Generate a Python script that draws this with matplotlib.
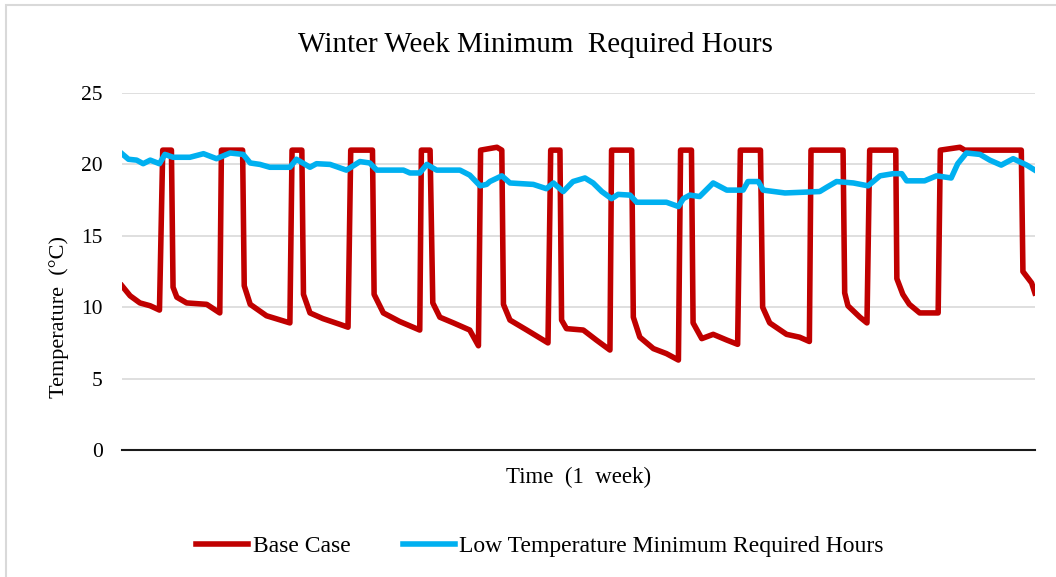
import matplotlib.pyplot as plt
from matplotlib.patches import Rectangle

plt.rcParams["font.family"] = ["Liberation Serif", "DejaVu Serif"]

# Base case indoor temperature over the week (hour, degC)
base_hours = [0, 1.5, 3.3, 5.2, 6.9, 7.5, 9.1, 9.4, 10.1, 11.9, 15.6, 18.0,
              18.3, 22.2, 22.5, 23.6, 26.6, 30.9, 31.3, 33.1, 33.4, 34.6, 37.0,
              40.1, 41.6, 42.1, 46.1, 46.4, 48.1, 51.1, 54.8, 55.1, 56.7, 57.2,
              58.5, 61.0, 64.0, 65.6, 66.0, 69.0, 69.9, 70.2, 71.4, 74.5, 78.4,
              78.9, 80.6, 80.9, 81.8, 84.9, 87.3, 89.8, 90.1, 93.8, 94.1, 95.3,
              97.8, 100.2, 102.4, 102.8, 104.8, 105.1, 106.7, 108.8, 111.3,
              113.3, 113.8, 117.5, 117.9, 119.2, 122.3, 124.7, 126.5, 126.8,
              132.7, 133.0, 133.6, 135.8, 137.1, 137.6, 142.4, 142.6, 143.7,
              144.9, 146.8, 150.2, 150.6, 154.2, 155.1, 165.5, 165.8, 167.4, 168]
base_temp = [11.5, 10.8, 10.3, 10.1, 9.8, 21.0, 21.0, 11.4, 10.7, 10.3, 10.2, 9.6,
             21.0, 21.0, 11.5, 10.2, 9.4, 8.9, 21.0, 21.0, 10.9, 9.6, 9.2,
             8.8, 8.6, 21.0, 21.0, 10.9, 9.6, 9.0, 8.4, 21.0, 21.0, 10.3,
             9.3, 8.9, 8.4, 7.3, 21.0, 21.2, 21.0, 10.2, 9.1, 8.4, 7.5,
             21.0, 21.0, 9.1, 8.5, 8.4, 7.7, 7.0, 21.0, 21.0, 9.3, 7.9,
             7.1, 6.75, 6.3, 21.0, 21.0, 8.9, 7.8, 8.1, 7.7,
             7.4, 21.0, 21.0, 10.0, 8.9, 8.1, 7.9, 7.6, 21.0,
             21.0, 11.0, 10.1, 9.3, 8.9, 21.0, 21.0, 12.0, 10.9,
             10.2, 9.6, 9.6, 21.0, 21.2, 21.0, 21.0, 12.5, 11.7, 11.0]

# Low temperature minimum required hours scenario (hour, degC)
low_hours = [0, 1.2, 2.7, 3.9, 5.2, 6.9, 7.9, 9.4, 12.5, 15.0, 17.4, 19.9,
             22.3, 23.6, 25.4, 27.2, 30.9, 32.1, 34.6, 35.8, 38.3, 41.3, 43.8,
             45.6, 46.9, 51.8, 53.0, 54.8, 56.1, 57.9, 62.2, 64.0, 65.9, 67.1,
             67.7, 69.9, 71.4, 75.7, 78.1, 79.4, 81.2, 83.0, 85.2, 86.7, 88.3,
             90.1, 91.3, 93.5, 94.7, 100.2, 102.4, 103.3, 104.5, 106.3, 108.8,
             111.3, 114.3, 115.2, 117.1, 118.0, 122.0, 128.4, 129.7, 131.5,
             134.6, 137.3, 139.5, 141.9, 143.5, 144.4, 147.7, 149.9, 152.6,
             153.8, 155.4, 157.9, 159.7, 161.8, 164.0, 166.5, 168]
low_temp = [20.75, 20.36, 20.3, 20.05, 20.3, 20.05, 20.7, 20.5, 20.5, 20.75, 20.4, 20.8,
            20.7, 20.1, 20.0, 19.8, 19.8, 20.36, 19.8, 20.05, 20.0, 19.6, 20.2,
            20.1, 19.6, 19.6, 19.4, 19.4, 20.0, 19.6, 19.6, 19.25, 18.5, 18.6,
            18.8, 19.2, 18.7, 18.6, 18.3, 18.7, 18.1, 18.8, 19.05, 18.7, 18.1,
            17.6, 17.9, 17.85, 17.35, 17.35, 17.05, 17.6, 17.85, 17.75, 18.7,
            18.2, 18.2, 18.8, 18.8, 18.2, 18.0, 18.1, 18.4, 18.8,
            18.7, 18.5, 19.2, 19.35, 19.35, 18.85, 18.85, 19.2, 19.05,
            20.05, 20.8, 20.7, 20.3, 19.95, 20.4, 19.95, 19.6]

y_ticks = [0, 5, 10, 15, 20, 25]

fig = plt.figure(figsize=(10.56, 5.77), dpi=100)
ax = fig.add_axes([0.1155, 0.2201, 0.8645, 0.6187])

# chart border
fig.patches.append(Rectangle((6 / 1056, -0.05), 1.2, (577 - 5) / 577 + 0.05,
                             transform=fig.transFigure, fill=False,
                             edgecolor="#D9D9D9", linewidth=1.5))

ax.plot(base_hours, base_temp, color="#C00000", linewidth=4.0,
        solid_joinstyle="round", label="Base Case", zorder=3)
ax.plot(low_hours, low_temp, color="#00B0F0", linewidth=4.0,
        solid_joinstyle="round", label="Low Temperature Minimum Required Hours", zorder=4)

ax.set_xlim(0, 168)
ax.set_ylim(0, 25)
ax.set_yticks(y_ticks)
ax.set_xticks([])
ax.tick_params(axis="y", length=0, pad=14, labelsize=15.5)
ax.grid(axis="y", color="#D9D9D9", linewidth=1.2)
ax.set_axisbelow(True)
for side in ["top", "right", "left"]:
    ax.spines[side].set_visible(False)
ax.spines["bottom"].set_color("#1a1a1a")
ax.spines["bottom"].set_linewidth(1.5)

ax.set_ylabel("Temperature  (°C)", fontsize=16)
ax.yaxis.set_label_coords(-0.058, 0.372)
ax.set_xlabel("Time  (1  week)", fontsize=16.5, labelpad=12)
fig.text(535 / 1056, 1 - 45 / 577, "Winter Week Minimum  Required Hours",
         fontsize=21, ha="center", va="center")

fig.legend(loc="center", bbox_to_anchor=(540 / 1056, 1 - 546 / 577), ncol=2,
           frameon=False, fontsize=17, handlelength=2.2, handletextpad=0.2,
           columnspacing=2.2)

fig.savefig("out.png", dpi=100)
